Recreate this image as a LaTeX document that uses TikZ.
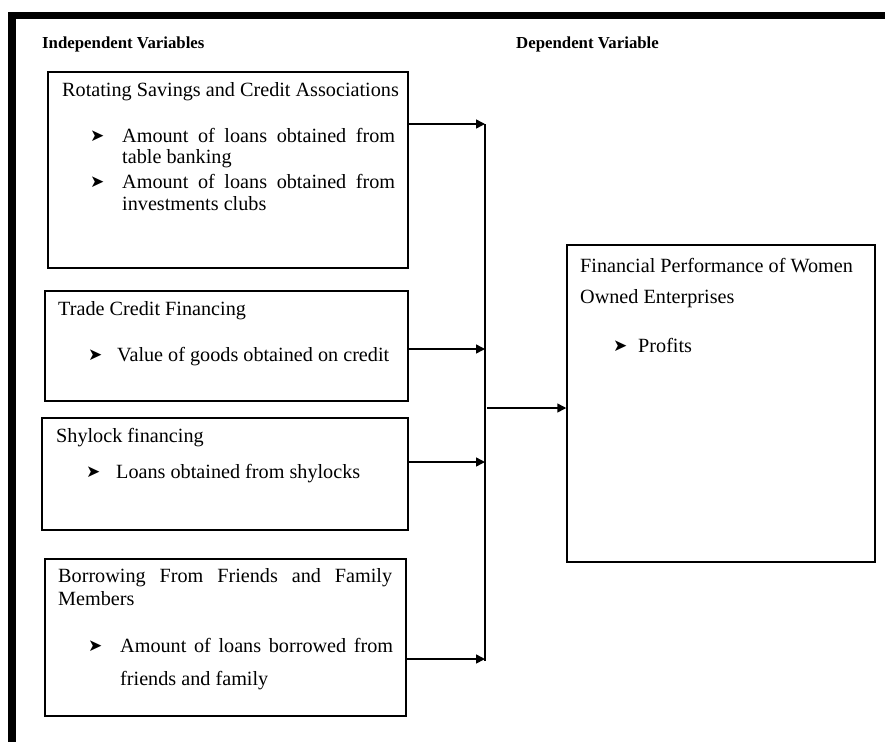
\documentclass[tikz,border=0pt]{standalone}
\usepackage{fontspec}
\setmainfont{Liberation Serif}
\newfontfamily\dejavu{DejaVu Sans}
\usetikzlibrary{arrows.meta}
\newcommand{\blt}{{\dejavu\fontsize{17}{19}\selectfont ➤}}
\begin{document}
\begin{tikzpicture}[x=1pt,y=-1pt,
  box/.style={draw, line width=1.5pt, inner sep=0pt},
  txt/.style={anchor=base west, inner sep=0pt, font=\fontsize{20.2}{23}\selectfont},
  head/.style={anchor=base west, inner sep=0pt, font=\fontsize{16.8}{19}\selectfont\bfseries},
  bul/.style={anchor=base west, inner sep=0pt},
  conn/.style={line width=1.5pt},
  arr/.style={line width=1.5pt, -{Triangle[length=9pt,width=9pt]}}]
\useasboundingbox (0,0) rectangle (885,742);
% frame
\fill (8,12) rectangle (885,19);
\fill (8,12) rectangle (16,742);
% headings
\node[head] (hi) at (42,48) {Independent Variables};
\node[head] (hd) at (516,48) {Dependent Variable};
% boxes
\node[box, minimum width=360pt, minimum height=196pt] (b1) at (228,170) {};
\node[box, minimum width=363pt, minimum height=110pt] (b2) at (226.5,346) {};
\node[box, minimum width=366pt, minimum height=112pt] (b3) at (225,474) {};
\node[box, minimum width=361pt, minimum height=157pt] (b4) at (225.5,637.5) {};
\node[box, minimum width=308pt, minimum height=317pt] (dv) at (721,403.5) {};
% box 1 text
\node[txt] (t1) at (62,96) {Rotating Savings and Credit Associations};
\node[bul] (u1a) at (90,141) {\blt};
\node[txt] (t1a) at (122,142) {\hbox to 273pt{Amount\hfill of\hfill loans\hfill obtained\hfill from}};
\node[txt] (t1b) at (122,163) {table banking};
\node[bul] (u1c) at (90,187) {\blt};
\node[txt] (t1c) at (122,188) {\hbox to 273pt{Amount\hfill of\hfill loans\hfill obtained\hfill from}};
\node[txt] (t1d) at (122,210) {investments clubs};
% box 2 text
\node[txt] (t2) at (58,315) {Trade Credit Financing};
\node[bul] (u2a) at (88,360) {\blt};
\node[txt] (t2a) at (117,361) {Value of goods obtained on credit};
% box 3 text
\node[txt] (t3) at (56,442) {Shylock financing};
\node[bul] (u3a) at (86,477) {\blt};
\node[txt] (t3a) at (116,478) {Loans obtained from shylocks};
% box 4 text
\node[txt] (t4) at (58,582) {\hbox to 334pt{Borrowing\hfill From\hfill Friends\hfill and\hfill Family}};
\node[txt] (t4b) at (58,605) {Members};
\node[bul] (u4a) at (88,651) {\blt};
\node[txt] (t4c) at (120,652) {\hbox to 273pt{Amount\hfill of\hfill loans\hfill borrowed\hfill from}};
\node[txt] (t4d) at (120,685) {friends and family};
% dependent box text
\node[txt] (t5) at (580,272) {Financial Performance of Women};
\node[txt] (t5b) at (580,303) {Owned Enterprises};
\node[bul] (u5a) at (613,351) {\blt};
\node[txt] (t5c) at (638,352) {Profits};
% connectors
\coordinate (j1) at (485,124);
\coordinate (j2) at (485,349);
\coordinate (j3) at (485,462);
\coordinate (j4) at (485,659);
\coordinate (m) at (487,408);
\draw[conn] (j1) -- (485,661);
\draw[arr] (b1.east |- j1) -- (j1);
\draw[arr] (b2.east |- j2) -- (j2);
\draw[arr] (b3.east |- j3) -- (j3);
\draw[arr] (b4.east |- j4) -- (j4);
\draw[arr] (m) -- (dv.west |- m);
\end{tikzpicture}
\end{document}
